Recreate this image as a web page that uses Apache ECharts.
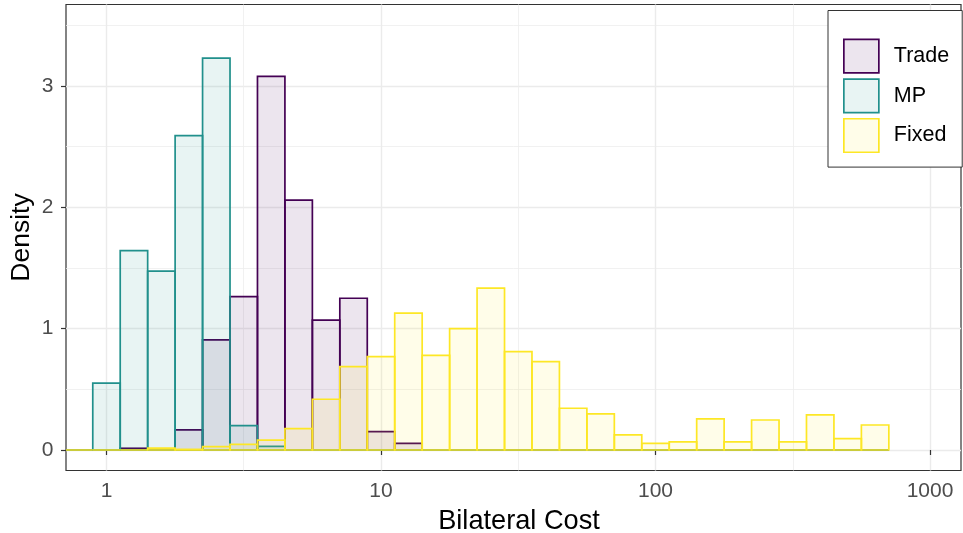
<!DOCTYPE html>
<html>
<head>
<meta charset="utf-8">
<title>Bilateral Cost density</title>
<script src="https://cdn.jsdelivr.net/npm/echarts@6/dist/echarts.min.js"></script>
<style>
  html, body { margin: 0; padding: 0; background: #ffffff; }
  #chart { width: 963px; height: 533px; }
</style>
</head>
<body>
<div id="chart"></div>
<script>
// Histogram bins: 0.1 wide in log10(cost); each entry is a bin centre in log10 units.
const binCentres = [-0.1, 0.0, 0.1, 0.2, 0.3, 0.4, 0.5, 0.6, 0.7, 0.8, 0.9,
                    1.0, 1.1, 1.2, 1.3, 1.4, 1.5, 1.6, 1.7, 1.8, 1.9,
                    2.0, 2.1, 2.2, 2.3, 2.4, 2.5, 2.6, 2.7, 2.8];
const binHalfWidth = 0.05;

// Density per bin for each cost type
const tradeDensity = [0, 0, 0.014, 0.005, 0.165, 0.907, 1.264, 3.078, 2.058, 1.069, 1.25,
                      0.151, 0.055, 0, 0, 0, 0, 0, 0, 0, 0,
                      0, 0, 0, 0, 0, 0, 0, 0, 0];
const mpDensity = [0, 0.55, 1.643, 1.473, 2.589, 3.229, 0.2, 0.03, 0, 0, 0,
                   0, 0, 0, 0, 0, 0, 0, 0, 0, 0,
                   0, 0, 0, 0, 0, 0, 0, 0, 0];
const fixedDensity = [0, 0, 0, 0.015, 0.005, 0.027, 0.047, 0.082, 0.176, 0.418, 0.687,
                      0.769, 1.127, 0.78, 1.0, 1.333, 0.81, 0.728, 0.344, 0.297, 0.124,
                      0.055, 0.066, 0.256, 0.066, 0.247, 0.066, 0.289, 0.093, 0.206];

const seriesNames = ['Trade', 'MP', 'Fixed'];
const xTickValues = [1, 10, 100, 1000];
const xMinorBreaks = [Math.pow(10, 0.5), Math.pow(10, 1.5), Math.pow(10, 2.5)];
const yTickValues = [0, 1, 2, 3];
const yMinorBreaks = [0.5, 1.5, 2.5, 3.5];

const strokeColors = ['#440154', '#21908C', '#FDE725'];
const fillColors = ['rgba(68,1,84,0.1)', 'rgba(33,144,140,0.1)', 'rgba(253,231,37,0.1)'];
const FONT = '"Liberation Sans", Arial, Helvetica, sans-serif';
const BAR_LINE = 1.7;

const X_MIN = Math.pow(10, -0.1475);
const X_MAX = Math.pow(10, 3.1129);
const Y_MIN = -0.169;
const Y_MAX = 3.67;

function binData(values) {
  return binCentres.map(function (c, i) {
    return [Math.pow(10, c - binHalfWidth), Math.pow(10, c + binHalfWidth), values[i]];
  });
}

function makeRenderer(idx) {
  return function (params, api) {
    const p0 = api.coord([api.value(0), 0]);
    const p1 = api.coord([api.value(1), api.value(2)]);
    const cs = params.coordSys;
    const shape = echarts.graphic.clipRectByRect(
      { x: p0[0], y: p1[1], width: p1[0] - p0[0], height: p0[1] - p1[1] },
      { x: cs.x, y: cs.y, width: cs.width, height: cs.height }
    );
    if (!shape) return null;
    return {
      type: 'rect',
      shape: shape,
      style: { fill: fillColors[idx], stroke: strokeColors[idx], lineWidth: BAR_LINE }
    };
  };
}

const densities = [tradeDensity, mpDensity, fixedDensity];

const chart = echarts.init(document.getElementById('chart'), null, { renderer: 'canvas' });

chart.setOption({
  animation: false,
  backgroundColor: '#ffffff',
  textStyle: { fontFamily: FONT },
  grid: {
    left: 66, right: 2, top: 4.5, bottom: 62.5,
    outerBoundsMode: 'none',
    containLabel: false,
    show: true, backgroundColor: 'transparent',
    borderColor: '#333333', borderWidth: 1.2
  },
  legend: {
    orient: 'vertical',
    left: 828, top: 10.5,
    padding: [28, 13, 14, 15],
    itemWidth: 35, itemHeight: 33.5, itemGap: 4.5,
    backgroundColor: '#ffffff',
    borderColor: '#333333', borderWidth: 1,
    textStyle: { fontFamily: FONT, fontSize: 21.5, color: '#000000', padding: [0, 0, 0, 10] },
    data: seriesNames.map(function (n, i) {
      return {
        name: n, icon: 'rect',
        itemStyle: { color: fillColors[i], borderColor: strokeColors[i], borderWidth: BAR_LINE }
      };
    })
  },
  xAxis: [
    {
      type: 'log', logBase: 10, min: X_MIN, max: X_MAX,
      name: 'Bilateral Cost', nameLocation: 'middle', nameGap: 38, nameMoveOverlap: false,
      nameTextStyle: { fontFamily: FONT, fontSize: 27.2, color: '#000000', padding: [0, 0, 0, 11] },
      axisLine: { show: false },
      axisTick: { show: true, length: 5, lineStyle: { color: '#333333', width: 1.2 }, customValues: xTickValues },
      axisLabel: { show: true, margin: 10, fontFamily: FONT, fontSize: 21, color: '#4D4D4D',
                   customValues: xTickValues, formatter: function (v) { return String(Math.round(v)); } },
      splitLine: { show: true, lineStyle: { color: '#EBEBEB', width: 1.4 } },
      minorTick: { show: false }
    },
    {
      type: 'log', logBase: 10, min: X_MIN, max: X_MAX, position: 'top',
      axisLine: { show: false },
      axisTick: { show: false, customValues: xMinorBreaks },
      axisLabel: { show: false, customValues: xMinorBreaks },
      splitLine: { show: true, lineStyle: { color: '#EDEDED', width: 0.8 } }
    }
  ],
  yAxis: [
    {
      type: 'value', min: Y_MIN, max: Y_MAX,
      name: 'Density', nameLocation: 'middle', nameGap: 31, nameMoveOverlap: false,
      nameTextStyle: { fontFamily: FONT, fontSize: 26.5, color: '#000000' },
      axisLine: { show: false },
      axisTick: { show: true, length: 5, lineStyle: { color: '#333333', width: 1.2 }, customValues: yTickValues },
      axisLabel: { show: true, margin: 12.5, fontFamily: FONT, fontSize: 21, color: '#4D4D4D', customValues: yTickValues },
      splitLine: { show: true, lineStyle: { color: '#EBEBEB', width: 1.4 } }
    },
    {
      type: 'value', min: Y_MIN, max: Y_MAX, position: 'right',
      axisLine: { show: false },
      axisTick: { show: false, customValues: yMinorBreaks },
      axisLabel: { show: false, customValues: yMinorBreaks },
      splitLine: { show: true, lineStyle: { color: '#EDEDED', width: 0.8 } }
    }
  ],
  series: seriesNames.map(function (name, i) {
    return {
      name: name,
      type: 'custom',
      xAxisIndex: 0, yAxisIndex: 0,
      renderItem: makeRenderer(i),
      itemStyle: { color: fillColors[i], borderColor: strokeColors[i], borderWidth: BAR_LINE },
      encode: { x: [0, 1], y: 2 },
      data: binData(densities[i]),
      silent: true,
      z: 2 + i
    };
  })
});
</script>
</body>
</html>
